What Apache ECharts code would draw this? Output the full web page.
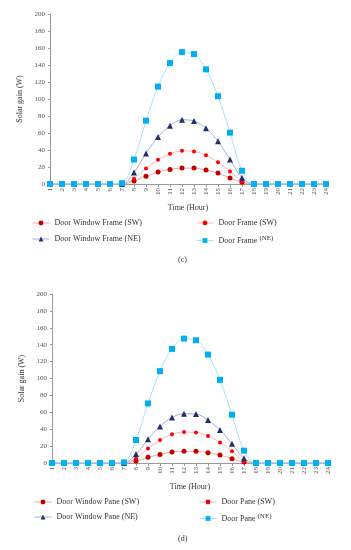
<!DOCTYPE html>
<html><head><meta charset="utf-8">
<script src="https://cdn.jsdelivr.net/npm/echarts@6/dist/echarts.min.js"></script>
<style>html,body{margin:0;padding:0;background:#fff}#c{width:351px;height:550px}</style>
</head><body><div id="c"></div>
<script>
const hours = ['1','2','3','4','5','6','7','8','9','10','11','12','13','14','15','16','17','18','19','20','21','22','23','24'];
const yTicks = [0,20,40,60,80,100,120,140,160,180,200];
// Chart (c)
const doorWindowFrameSW = [0,0,0,0,0,0,0,3.5,9,14,17.2,18.7,18.7,16.4,12.9,7,2,0,0,0,0,0,0,0];
const doorFrameSW       = [0,0,0,0,0,0,0,6.2,18.3,28.5,35.5,39,38.2,33.9,25.7,14.8,3.5,0,0,0,0,0,0,0];
const doorWindowFrameNE = [0,0,0,0,0,0,0,13.6,35.9,55.4,68.6,75.6,74.1,65.5,50.3,28.8,7.4,0,0,0,0,0,0,0];
const doorFrameNE       = [0,0,0,0,0,0,1,28.8,74.5,114.6,142.3,155.2,152.8,134.9,103.3,60.4,15.6,0,0,0,0,0,0,0];
// Chart (d)
const doorWindowPaneSW = [0,0,0,0,0,0,0,2.4,6.7,10.2,13,13.8,13.8,12.2,9.4,5.1,1.2,0,0,0,0,0,0,0];
const doorPaneSW       = [0,0,0,0,0,0,0,5.5,17.3,27.2,33.9,36.6,36.2,31.9,24.4,13.8,2,0,0,0,0,0,0,0];
const doorWindowPaneNE = [0,0,0,0,0,0,0,10.6,28,43.3,53.9,58.3,57.9,50.8,39,22.8,5.5,0,0,0,0,0,0,0];
const doorPaneNE       = [0,0,0,0,0,0,0.8,27.2,70.5,108.7,135,147.2,145.3,128.3,98.4,57.1,14.6,0,0,0,0,0,0,0];

const FONT = 'Liberation Serif';
const styles = [
  {symbol:'circle', size:5, mark:'#C00000', line:'#F4A6A6'},
  {symbol:'circle', size:4, mark:'#FF0000', line:'#F9B8B8'},
  {symbol:'triangle', size:6, mark:'#1F2F6E', line:'#A9AECB'},
  {symbol:'rect', size:6, mark:'#00B0F0', line:'#A6E3F8'}
];
function mkSeries(name, data, st, idx){
  return {name, type:'line', data, smooth:0.35, xAxisIndex:idx, yAxisIndex:idx,
    symbol:st.symbol, symbolSize:st.size, showSymbol:true,
    itemStyle:{color:st.mark}, lineStyle:{color:st.line, width:1}, z: 2};
}
const namesC = ['Door Window Frame (SW)','Door Frame (SW)','Door Window Frame (NE)','Door Frame (NE)'];
const namesD = ['Door Window Pane (SW)','Door Pane (SW)','Door Window Pane (NE)','Door Pane (NE)'];
const dataC = [doorWindowFrameSW, doorFrameSW, doorWindowFrameNE, doorFrameNE];
const dataD = [doorWindowPaneSW, doorPaneSW, doorWindowPaneNE, doorPaneNE];

function xAx(idx){
  return {type:'category', gridIndex:idx, data:hours, boundaryGap:false,
    name:'Time (Hour)', nameLocation:'middle', nameGap:20,
    nameTextStyle:{fontFamily:FONT, fontSize:8, color:'#333'},
    axisLine:{lineStyle:{color:'#999', width:1}},
    axisTick:{show:true, alignWithLabel:true, length:3, lineStyle:{color:'#999'}},
    axisLabel:{rotate:90, fontFamily:FONT, fontSize:7, color:'#555', margin:4, interval:0}};
}
function yAx(idx){
  return {type:'value', gridIndex:idx, min:yTicks[0], max:yTicks[yTicks.length-1], interval:20,
    name:'Solar gain (W)', nameLocation:'middle', nameGap:26,
    nameTextStyle:{fontFamily:FONT, fontSize:8, color:'#333'},
    splitLine:{show:false},
    axisLine:{show:true, lineStyle:{color:'#999', width:1}},
    axisTick:{show:true, length:2, lineStyle:{color:'#999'}},
    axisLabel:{fontFamily:FONT, fontSize:7, color:'#555', margin:5}};
}
function legends(names, idx, top1, top2, leftL, leftR){
  const pos = [[leftL, top1],[leftR, top1],[leftL, top2],[leftR, top2]];
  return names.map((n,i)=>({data:[n], left:pos[i][0], top:pos[i][1], padding:0,
    itemWidth:17, itemHeight:6, itemGap:0,
    lineStyle:{width:1},
    textStyle:{fontFamily:FONT, fontSize:8, color:'#333', rich:{sup:{fontFamily:FONT, fontSize:7, color:'#333', verticalAlign:'top', padding:[0,0,4,0]}}},
    formatter: (name)=> (i===3 ? name.replace(' (NE)', ' {sup|(NE)}') : name)
  }));
}
const series = [];
namesC.forEach((n,i)=>series.push(mkSeries(n, dataC[i], styles[i], 0)));
namesD.forEach((n,i)=>series.push(mkSeries(n, dataD[i], styles[i], 1)));

const chart = echarts.init(document.getElementById('c'), null, {renderer:'canvas'});
chart.setOption({
  animation:false,
  backgroundColor:'#fff',
  grid:[{left:50, right:25, top:14, height:170}, {left:52, right:23, top:294, height:169}],
  xAxis:[xAx(0), xAx(1)],
  yAxis:[yAx(0), yAx(1)],
  legend:[...legends(namesC, 0, 219, 235, 32, 196), ...legends(namesD, 1, 498, 513, 34, 199)],
  title:[{text:'(c)', left:178, top:256, padding:0, textStyle:{fontFamily:FONT, fontSize:8, fontWeight:'normal', color:'#333'}},
         {text:'(d)', left:178, top:535, padding:0, textStyle:{fontFamily:FONT, fontSize:8, fontWeight:'normal', color:'#333'}}],
  series
});
</script></body></html>
